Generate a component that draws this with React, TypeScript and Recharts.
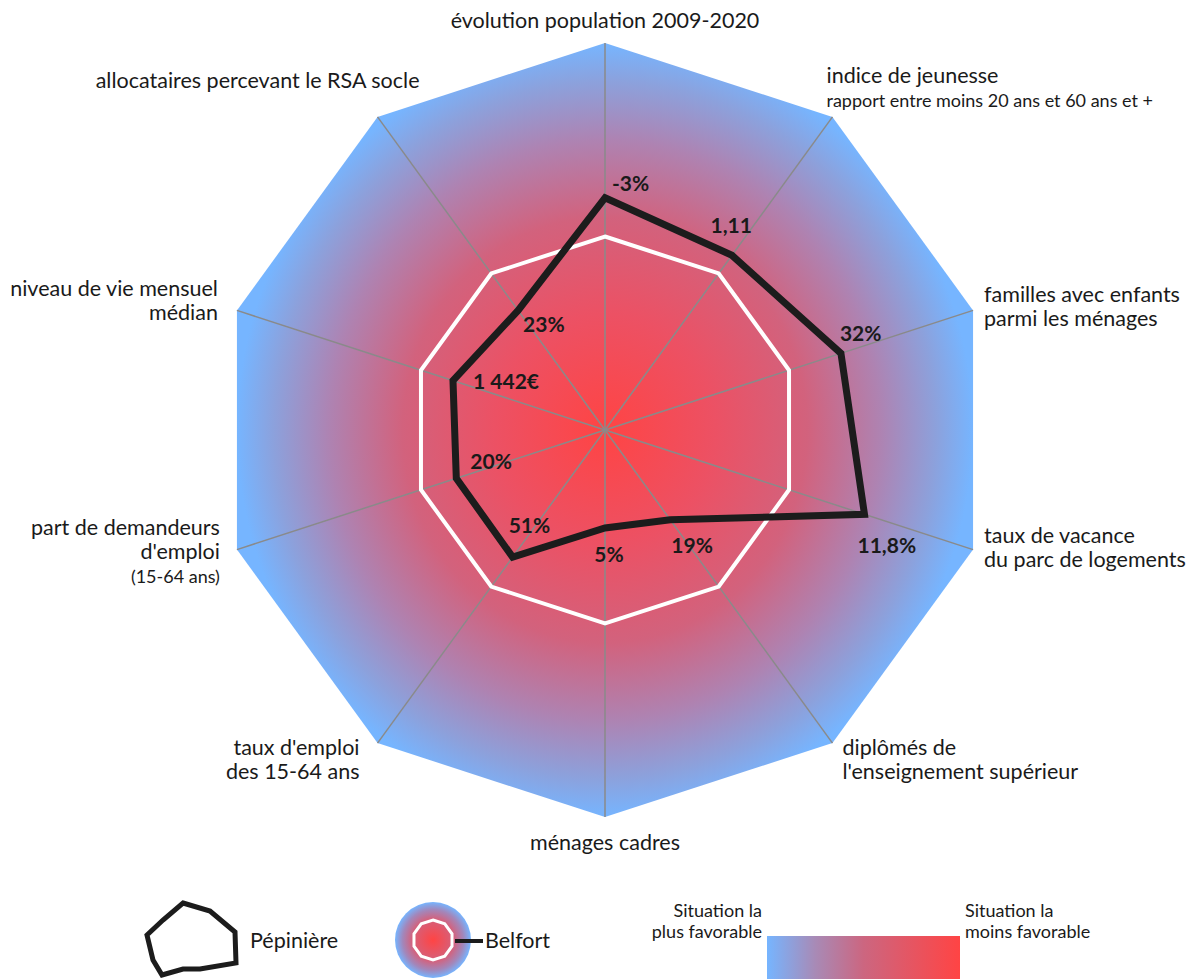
import React from 'react';
import { RadarChart, Radar, PolarGrid, PolarAngleAxis, PolarRadiusAxis, LabelList } from 'recharts';

// axis names, in order clockwise from the top
const axes = [
  'évolution population 2009-2020',
  'indice de jeunesse',
  'familles avec enfants parmi les ménages',
  'taux de vacance du parc de logements',
  "diplômés de l'enseignement supérieur",
  'ménages cadres',
  "taux d'emploi des 15-64 ans",
  "part de demandeurs d'emploi",
  'niveau de vie mensuel médian',
  'allocataires percevant le RSA socle',
];

// how each axis name is split on the picture
const axisLines: string[][] = [
  ['évolution population 2009-2020'],
  ['indice de jeunesse'],
  ['familles avec enfants', 'parmi les ménages'],
  ['taux de vacance', 'du parc de logements'],
  ['diplômés de', "l'enseignement supérieur"],
  ['ménages cadres'],
  ["taux d'emploi", 'des 15-64 ans'],
  ['part de demandeurs', "d'emploi"],
  ['niveau de vie mensuel', 'médian'],
  ['allocataires percevant le RSA socle'],
];
const axisNotes = ['', 'rapport entre moins 20 ans et 60 ans et +', '', '', '', '', '', '(15-64 ans)', '', ''];

// scores on a 0-100 scale (100 = outer edge, Belfort = reference at 50)
const outerValues = [100, 100, 100, 100, 100, 100, 100, 100, 100, 100];
const belfortValues = [50, 50, 50, 50, 50, 50, 50, 50, 50, 50];
const pepiniereValues = [60, 55.8, 64.1, 70.5, 28.7, 25.3, 40.6, 40.4, 41.3, 38.2];
const pepiniereLabels = ['-3%', '1,11', '32%', '11,8%', '19%', '5%', '51%', '20%', '1 442€', '23%'];

const data = axes.map((axis, i) => ({
  axis,
  outer: outerValues[i],
  belfort: belfortValues[i],
  pepiniere: pepiniereValues[i],
  label: pepiniereLabels[i],
}));

const FONT = 'Lato, "Noto Sans", sans-serif';
const TEXT = '#1a1a1a';
const RAD = Math.PI / 180;

const tickLayout: { anchor: 'start' | 'middle' | 'end'; dx: number; dy: number }[] = [
  { anchor: 'middle', dx: 0, dy: -15 },
  { anchor: 'start', dx: -6, dy: -34 },
  { anchor: 'start', dx: 11, dy: -8 },
  { anchor: 'start', dx: 11, dy: -7 },
  { anchor: 'start', dx: 10, dy: 12 },
  { anchor: 'middle', dx: 0, dy: 33 },
  { anchor: 'end', dx: -18, dy: 12 },
  { anchor: 'end', dx: -17, dy: -15 },
  { anchor: 'end', dx: -19, dy: -14 },
  { anchor: 'end', dx: 42, dy: -29 },
];

const valueLayout: { anchor: 'start' | 'middle' | 'end'; dx: number; dy: number }[] = [
  { anchor: 'start', dx: 7, dy: -7 },
  { anchor: 'end', dx: 20, dy: -22 },
  { anchor: 'start', dx: -1, dy: -12 },
  { anchor: 'start', dx: -7, dy: 39 },
  { anchor: 'start', dx: 1, dy: 33 },
  { anchor: 'middle', dx: 4, dy: 34 },
  { anchor: 'start', dx: -4, dy: -24 },
  { anchor: 'start', dx: 14, dy: -9 },
  { anchor: 'start', dx: 20, dy: 8 },
  { anchor: 'start', dx: 5, dy: 22 },
];

function AxisTick(props: any) {
  const { x, y, payload } = props;
  let i = typeof props.index === 'number' ? props.index : axes.indexOf(payload?.value);
  if (i < 0) i = 0;
  const a = (payload?.coordinate ?? 90) * RAD;
  // tick point sits 8px outside the vertex
  const vx = x - 8 * Math.cos(-a);
  const vy = y - 8 * Math.sin(-a);
  const lay = tickLayout[i];
  const lines = axisLines[i];
  return (
    <g>
      {lines.map((l, k) => (
        <text key={k} x={vx + lay.dx} y={vy + lay.dy + k * 24} textAnchor={lay.anchor}
          fontFamily={FONT} fontSize={21.5} fill={TEXT}>{l}</text>
      ))}
      {axisNotes[i] && (
        <text x={vx + lay.dx} y={vy + lay.dy + lines.length * 24} textAnchor={lay.anchor}
          fontFamily={FONT} fontSize={18} fill={TEXT}>{axisNotes[i]}</text>
      )}
    </g>
  );
}

function ValueLabel(props: any) {
  const i = props.index ?? 0;
  let { x, y } = props;
  if (typeof x !== 'number' && props.viewBox) {
    const vb = props.viewBox;
    x = vb.cx + vb.outerRadius * Math.cos(-vb.startAngle * RAD);
    y = vb.cy + vb.outerRadius * Math.sin(-vb.startAngle * RAD);
  }
  const lay = valueLayout[i];
  return (
    <text x={x + lay.dx} y={y + lay.dy} textAnchor={lay.anchor} fontFamily={FONT}
      fontSize={21} fontWeight={700} fill={TEXT}>{pepiniereLabels[i]}</text>
  );
}

function Legend() {
  return (
    <svg width={1189} height={99} style={{ position: 'absolute', left: 0, top: 880 }}>
      <defs>
        <radialGradient id="legCircle" cx="50%" cy="50%" r="50%">
          <stop offset="0%" stopColor="#ff4444" />
          <stop offset="55%" stopColor="#d4617c" />
          <stop offset="80%" stopColor="#a287bb" />
          <stop offset="100%" stopColor="#76b5ff" />
        </radialGradient>
        <linearGradient id="legBar" x1="0" y1="0" x2="1" y2="0">
          <stop offset="0%" stopColor="#76b5ff" />
          <stop offset="25%" stopColor="#a88ab6" />
          <stop offset="50%" stopColor="#cc6680" />
          <stop offset="100%" stopColor="#ff4444" />
        </linearGradient>
      </defs>
      <path d="M183,23 L210,31 L235,52 L236,83 L200,89 L183,89 L162,95 L153,80 L147,55 L163,40 Z"
        fill="none" stroke="#1c1c1c" strokeWidth={5} />
      <text x={250} y={68} fontFamily={FONT} fontSize={21.5} fill={TEXT}>Pépinière</text>
      <circle cx={433} cy={60} r={38} fill="url(#legCircle)" />
      <polygon
        points={Array.from({ length: 10 }, (_, k) => {
          const t = k * 36 * RAD;
          return `${433 + 20 * Math.sin(t)},${60 - 20 * Math.cos(t)}`;
        }).join(' ')}
        fill="none" stroke="#fff" strokeWidth={3}
      />
      <line x1={455} y1={61} x2={483} y2={61} stroke="#1c1c1c" strokeWidth={4} />
      <text x={485} y={68} fontFamily={FONT} fontSize={21.5} fill={TEXT}>Belfort</text>
      <text x={762} y={37} textAnchor="end" fontFamily={FONT} fontSize={18} fill={TEXT}>Situation la</text>
      <text x={762} y={58} textAnchor="end" fontFamily={FONT} fontSize={18} fill={TEXT}>plus favorable</text>
      <rect x={767} y={56} width={193} height={50} fill="url(#legBar)" />
      <text x={965} y={37} fontFamily={FONT} fontSize={18} fill={TEXT}>Situation la</text>
      <text x={965} y={58} fontFamily={FONT} fontSize={18} fill={TEXT}>moins favorable</text>
    </svg>
  );
}

export default function App() {
  return (
    <div style={{ position: 'absolute', left: 0, top: 0, width: 1189, height: 979, background: '#fff', overflow: 'hidden' }}>
      <style>{'.recharts-polar-grid-concentric{display:none}'}</style>
      <RadarChart width={1189} height={979} data={data} cx={605} cy={430} outerRadius={387}
        margin={{ top: 0, right: 0, bottom: 0, left: 0 }}>
        <defs>
          <radialGradient id="bgGrad" cx="50%" cy="50%" r="50%">
            <stop offset="0%" stopColor="#ff4444" />
            <stop offset="30%" stopColor="#ec5164" />
            <stop offset="55%" stopColor="#d2627d" />
            <stop offset="75%" stopColor="#ae83b2" />
            <stop offset="90%" stopColor="#8ca1dc" />
            <stop offset="100%" stopColor="#76b5ff" />
          </radialGradient>
        </defs>
        <PolarRadiusAxis domain={[0, 100]} tick={false} axisLine={false} />
        <Radar dataKey="outer" fill="url(#bgGrad)" fillOpacity={1} stroke="none"
          isAnimationActive={false} zIndex={100} />
        <PolarGrid gridType="polygon" polarRadius={[]} stroke="#8a8a8a" strokeWidth={1.5} zIndex={150} />
        <PolarAngleAxis dataKey="axis" axisLine={false} tickLine={false} tick={AxisTick} />
        <Radar dataKey="belfort" fill="none" stroke="#ffffff" strokeWidth={4}
          isAnimationActive={false} zIndex={200} />
        <Radar dataKey="pepiniere" fill="none" stroke="#1c1c1c" strokeWidth={7}
          isAnimationActive={false} zIndex={300}>
          <LabelList dataKey="label" content={ValueLabel} />
        </Radar>
      </RadarChart>
      <Legend />
    </div>
  );
}
